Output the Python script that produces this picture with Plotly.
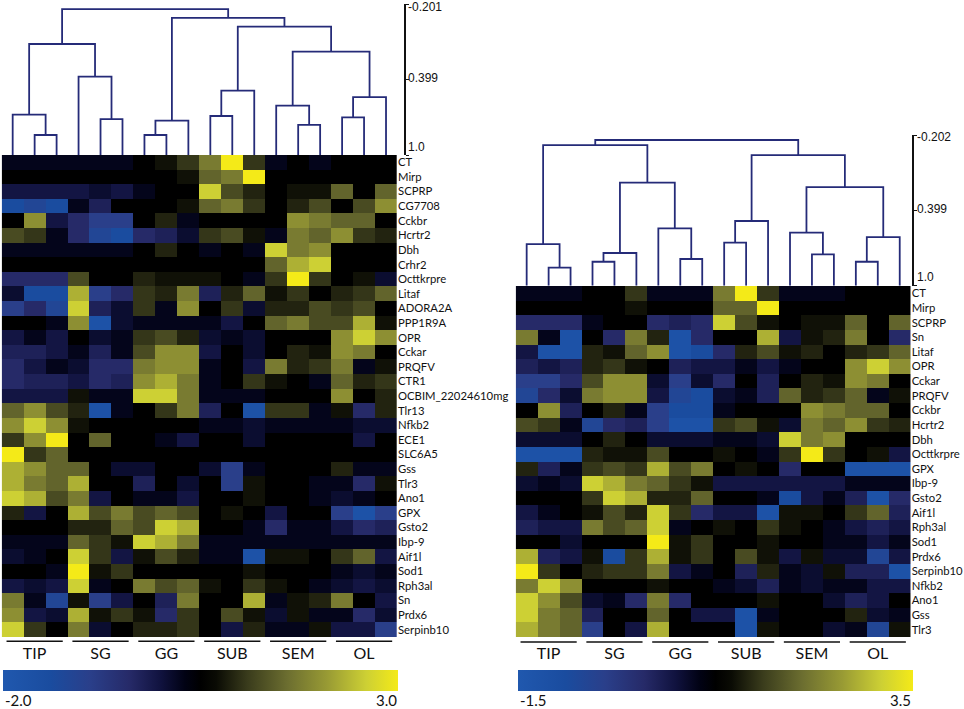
import plotly.graph_objects as go

# groups and row names
groups = ['TIP', 'SG', 'GG', 'SUB', 'SEM', 'OL']
group_centers = [1, 4, 7, 10, 13, 16]
columns = list(range(18))

left_genes = ['CT', 'Mirp', 'SCPRP', 'CG7708', 'Cckbr', 'Hcrtr2', 'Dbh', 'Crhr2', 'Octtkrpre', 'Litaf',
              'ADORA2A', 'PPP1R9A', 'OPR', 'Cckar', 'PRQFV', 'CTR1', 'OCBIM_22024610mg', 'Tlr13', 'Nfkb2',
              'ECE1', 'SLC6A5', 'Gss', 'Tlr3', 'Ano1', 'GPX', 'Gsto2', 'Ibp-9', 'Aif1l', 'Sod1', 'Rph3al',
              'Sn', 'Prdx6', 'Serpinb10']

right_genes = ['CT', 'Mirp', 'SCPRP', 'Sn', 'Litaf', 'OPR', 'Cckar', 'PRQFV', 'Cckbr', 'Hcrtr2', 'Dbh',
               'Octtkrpre', 'GPX', 'Ibp-9', 'Gsto2', 'Aif1l', 'Rph3al', 'Sod1', 'Prdx6', 'Serpinb10',
               'Nfkb2', 'Ano1', 'Gss', 'Tlr3']

# cell values: -10 = full blue, 0 = black, 10 = full yellow
left_levels = [
    [-1, -1, -1, -1, -1, -1, 0, 1, 3, 6, 10, 3, -1, 0, -1, 0, 0, 0],
    [0, 0, 0, 0, 0, 0, 0, 0, 1, 5, 6, 10, 0, 0, 0, 0, 0, 0],
    [-3, -3, -3, -3, -2, -3, -1, 0, 0, 9, 4, 2, 0, 1, 1, 5, 0, 5],
    [-8, -7, -8, -1, -4, 0, 0, 0, 1, 5, 6, 3, 0, 2, 4, 0, 4, 7],
    [0, 7, -3, -5, -6, -6, 0, 2, -1, 0, 0, 0, 0, 7, 6, 5, 5, 0],
    [4, 3, -1, -5, -7, -8, -5, -4, -2, 3, 4, 1, -1, 6, 5, 7, 3, 2],
    [-1, -1, -1, -1, -1, -1, 0, 2, 0, -1, 0, -1, 9, 6, 7, 0, 0, 0],
    [0, 0, 0, 0, 0, 0, 0, 0, 0, 0, 0, 0, 5, 8, 9, 0, 0, 0],
    [-5, -5, -5, 4, 0, 0, 2, 1, 1, 1, 0, -1, 3, 10, 3, 0, 1, -2],
    [-2, -8, -8, 8, -6, -5, 3, 2, 6, -4, 2, 5, 1, 3, 0, 2, 3, 5],
    [-6, -5, -7, 9, -4, -2, 3, -1, 7, 0, 3, -2, 2, 2, 4, 3, 4, 0],
    [0, 0, -1, 7, -9, -2, -1, -1, -1, -1, -3, 0, 5, 6, 4, 4, 8, 1],
    [-3, -1, -3, 0, -2, -1, 3, 4, 2, -2, -1, -2, 0, 0, 0, 7, 9, 7],
    [-4, -4, -3, -1, -4, -1, 4, 7, 7, -3, 0, -2, 0, 2, 1, 7, 6, 0],
    [-5, -3, -1, -2, -5, -5, 6, 7, 7, -1, 0, -3, 6, 2, 3, 6, -1, 1],
    [-5, -4, -4, -3, -5, -4, 7, 8, 6, -1, 0, 3, 1, 0, -1, 5, 2, 3],
    [-3, -3, -3, 1, -1, -1, 9, 9, 6, -1, -1, -1, 0, 0, 0, 7, 0, 2],
    [5, 7, 4, 2, -9, -1, 0, 3, 6, -4, 0, -9, 3, 3, -1, 1, -5, 2],
    [7, 9, 7, 1, 0, 0, 0, 0, 0, -1, -1, -2, -1, -1, -1, -1, -2, -2],
    [3, 7, 10, 0, 5, 0, 0, -1, -3, 0, 0, -2, 0, 0, 0, 0, -3, 0],
    [10, 3, 5, 0, 0, 0, 0, 0, 0, 0, 0, 0, 0, 0, 0, 0, 0, 0],
    [8, 7, 5, 5, 0, -2, -2, 0, 0, -2, -6, -1, 0, 0, 0, 2, -1, -1],
    [8, 6, 5, 8, 0, 0, -4, 0, -2, 0, -6, 1, 0, 0, -1, -1, -5, 1],
    [9, 8, 4, 6, -3, 0, -1, -1, -3, 0, 0, 1, 0, 0, -1, -2, -1, 0],
    [2, -3, 0, 8, 4, 6, 4, 5, 4, 0, 1, 0, -3, 0, 0, -6, -9, -6],
    [0, 0, 0, 2, 2, 5, 4, 9, 8, 0, 0, -1, -5, -1, -1, -3, -5, -4],
    [-1, -1, -1, 5, 3, 1, 9, 8, 6, -1, -1, -1, -1, -1, -1, -1, -1, -1],
    [-2, -1, 0, 9, 3, -3, 1, 4, 2, -1, -1, -9, 1, 1, 0, 3, 5, -3],
    [0, 0, -1, 10, 1, 3, 0, 0, 0, 0, 0, 1, 0, 0, 0, -1, -2, -1],
    [-3, -2, -3, 9, -1, 0, 6, 4, 5, 1, 0, 3, 1, 0, -1, -2, -3, -2],
    [6, -1, -7, 1, -6, -3, 0, -4, 6, 0, 0, 8, -1, 1, 2, 6, 0, -3],
    [7, -3, -2, 8, 1, 3, 1, -5, 3, 0, 4, 1, -2, 1, -1, -1, -5, -2],
    [9, 3, 0, 6, -2, 0, 2, 2, 3, 0, -3, 2, -1, -1, 1, -3, -3, -6],
]

right_levels = [
    [-1, -1, -1, 0, 0, 3, -1, -1, -1, 6, 10, 3, -1, -1, -1, 0, 0, 0],
    [0, 0, 0, 0, 0, 1, 0, 0, 0, 5, 5, 10, 0, 0, 0, 0, 0, 0],
    [-5, -5, -5, -1, 0, 0, -5, -4, -5, 9, 4, 1, 0, 1, 1, 5, 0, 5],
    [6, -1, -9, 0, -5, 6, 2, -9, -5, 0, 0, 8, -3, 1, 2, 6, 0, -5],
    [-3, -9, -9, 2, 1, 5, 7, -9, -8, -5, 2, 4, 1, 2, 0, 2, 3, 5],
    [-4, -3, -4, 2, 3, 1, 0, -4, -3, -3, -1, -3, -1, 0, 0, 7, 9, 7],
    [-6, -6, -5, 4, 7, 7, -2, -6, -2, -5, 0, -4, 0, 2, 1, 7, 6, 0],
    [-7, -5, -2, 6, 7, 7, -3, -7, -8, -2, -1, -4, 5, 2, 3, 5, -1, 1],
    [0, 7, -4, 0, 2, -1, -6, -8, -8, -1, 0, 0, 0, 7, 6, 5, 5, 0],
    [4, 3, -1, -7, -5, -4, -6, -9, -9, 3, 4, 1, -2, 6, 5, 7, 3, 2],
    [-2, -2, -2, 0, 2, 0, -2, -2, -2, -1, -1, -2, 9, 6, 7, 0, 0, 0],
    [-9, -9, -9, 2, 1, 1, 4, 0, 0, 1, 0, -1, 3, 10, 3, 0, 1, -3],
    [2, -4, -1, 3, 4, 3, 8, 4, 6, 0, 1, 0, -5, 0, 0, -9, -9, -9],
    [-2, -1, -2, 9, 8, 6, 5, 3, 1, -3, -3, -3, -3, -3, -3, -1, -1, -1],
    [0, 0, 0, 3, 9, 8, 2, 2, 5, 0, 0, -1, -8, -3, -1, -4, -9, -5],
    [-3, -1, 0, 1, 4, 2, 9, 3, -5, -3, -3, -9, 1, 1, 0, 3, 5, -4],
    [-4, -3, -3, 6, 4, 5, 9, -1, 0, 1, 0, 3, 1, 0, -1, -3, -4, -3],
    [0, 0, -2, 0, 0, 0, 10, 1, 3, 0, 0, 1, 0, 0, -1, -1, -3, -1],
    [8, -4, -3, 1, -8, 3, 8, 1, 3, 0, 4, 1, -3, 1, -2, -2, -7, -3],
    [10, 3, 0, 2, 3, 3, 6, -3, -1, 0, -4, 2, -1, -2, 1, -4, -4, -9],
    [6, 9, 7, 0, 0, 0, 1, 0, 0, -1, -2, -4, -1, -2, -1, -1, -3, -3],
    [9, 7, 4, -2, -1, -5, 6, -5, 0, 0, 0, 1, 0, 0, -2, -4, -3, 0],
    [9, 6, 5, -4, 0, 0, 5, 0, -3, -3, -9, -1, 0, 0, 0, 2, -2, -1],
    [8, 6, 5, -6, 0, -3, 8, 0, 0, 0, -9, 1, 0, 0, -2, -1, -7, 1],
]

# where each shade sits along the colour bar (0 = left end, 1 = right end), shades -10 to 10
shade_pos = [0.0, 0.06, 0.12, 0.17, 0.22, 0.32, 0.35, 0.39, 0.42, 0.45, 0.50,
             0.55, 0.58, 0.61, 0.65, 0.70, 0.75, 0.795, 0.86, 0.92, 1.0]

# dendrograms: (child, child, height). ids 0-17 are the columns, 18 up are earlier merges
left_links = [(1, 2, 0.841), (0, 18, 0.679), (4, 5, 0.714), (3, 20, 0.377), (19, 21, 0.117),
              (6, 7, 0.841), (23, 8, 0.727), (9, 10, 0.690), (25, 11, 0.488), (13, 14, 0.761),
              (12, 27, 0.608), (15, 16, 0.700), (29, 17, 0.539), (28, 30, 0.178), (26, 31, -0.021),
              (24, 32, -0.090), (22, 33, -0.161)]

right_links = [(1, 2, 0.856), (0, 18, 0.668), (3, 4, 0.809), (20, 5, 0.739), (7, 8, 0.787),
               (6, 22, 0.543), (21, 23, 0.178), (19, 24, -0.122), (9, 10, 0.657), (26, 11, 0.484),
               (13, 14, 0.750), (12, 28, 0.577), (15, 16, 0.809), (30, 17, 0.612), (29, 31, 0.213),
               (27, 32, -0.042), (25, 33, -0.162)]

left_scale = [-0.201, 0.399, 1.0]
right_scale = [-0.202, 0.399, 1.0]
left_range = [-2.0, 3.0]
right_range = [-1.5, 3.5]

colors = [[0.0, '#2058ae'], [0.12, '#1a4c9f'], [0.22, '#2a3f8a'], [0.32, '#262a68'], [0.40, '#10123e'],
          [0.46, '#010214'], [0.50, '#000000'], [0.54, '#0a0b04'], [0.62, '#3a3c1c'], [0.72, '#6c6e30'],
          [0.82, '#989a34'], [0.92, '#cdd034'], [1.0, '#f4ea18']]

W, H = 964, 709
FONT = 'Lato'


def px_x(x):
    return x / W


def px_y(y):
    return 1 - y / H


def to_values(levels, rng):
    return [[rng[0] + shade_pos[v + 10] * (rng[1] - rng[0]) for v in row] for row in levels]


def dendro_lines(links):
    pos = {i: (i, 1.0) for i in columns}
    xs, ys = [], []
    for n, (a, b, h) in enumerate(links):
        xa, ya = pos[a]
        xb, yb = pos[b]
        xs += [xa, xa, xb, xb, None]
        ys += [ya, h, h, yb, None]
        pos[18 + n] = ((xa + xb) / 2, h)
    return xs, ys


fig = go.Figure()

# heatmaps
fig.add_trace(go.Heatmap(x=columns, y=left_genes, z=to_values(left_levels, left_range),
                         coloraxis='coloraxis', xaxis='x', yaxis='y'))
fig.add_trace(go.Heatmap(x=columns, y=right_genes, z=to_values(right_levels, right_range),
                         coloraxis='coloraxis2', xaxis='x2', yaxis='y2'))

# dendrograms
lx, ly = dendro_lines(left_links)
rx, ry = dendro_lines(right_links)
fig.add_trace(go.Scatter(x=lx, y=ly, mode='lines', line=dict(color='#252b78', width=1.8),
                         xaxis='x3', yaxis='y3', showlegend=False))
fig.add_trace(go.Scatter(x=rx, y=ry, mode='lines', line=dict(color='#252b78', width=1.8),
                         xaxis='x4', yaxis='y4', showlegend=False))


def bar(x0, width):
    return dict(orientation='h', x=px_x(x0), xanchor='left', y=px_y(670), yanchor='top', len=width / W,
                lenmode='fraction', thickness=21, thicknessmode='pixels', xpad=0, ypad=0,
                showticklabels=False, ticks='', outlinewidth=0)


def heat_x(x0, x1):
    return dict(domain=[px_x(x0), px_x(x1)], range=[-0.5, 17.5], tickmode='array', tickvals=group_centers,
                ticktext=groups, ticks='', ticklen=0, showgrid=False, zeroline=False, ticklabelstandoff=5,
                tickfont=dict(family=FONT, size=16, color='#111111'), side='bottom')


def heat_y(y0, y1, genes):
    return dict(domain=[px_y(y1), px_y(y0)], type='category', categoryorder='array', categoryarray=genes,
                autorange='reversed', side='right', tickmode='array', tickvals=genes, ticktext=genes,
                ticks='', showgrid=False, zeroline=False, tickfont=dict(family=FONT, size=11.3, color='#111111'))


def tree_x(x0, x1):
    return dict(domain=[px_x(x0), px_x(x1)], range=[-0.5, 17.5], visible=False)


def tree_y(y0, y1, scale, x_line):
    return dict(domain=[px_y(y1), px_y(y0)], range=[scale[-1], scale[0]], anchor='free', position=px_x(x_line),
                side='right', showline=True, linecolor='#111111', linewidth=2, tickmode='array',
                tickvals=scale, ticks='outside', ticklen=3, tickcolor='#111111', showticklabels=False,
                showgrid=False, zeroline=False)


fig.update_layout(
    width=W, height=H, margin=dict(l=0, r=0, t=0, b=0, autoexpand=False),
    plot_bgcolor='white', paper_bgcolor='white', showlegend=False,
    coloraxis=dict(colorscale=colors, cmin=left_range[0], cmax=left_range[1], colorbar=bar(3, 395)),
    coloraxis2=dict(colorscale=colors, cmin=right_range[0], cmax=right_range[1], colorbar=bar(518, 395)),
    xaxis=heat_x(1.7, 397),
    yaxis=heat_y(155, 637, left_genes),
    xaxis2=dict(heat_x(515.7, 910.7), anchor='y2'),
    yaxis2=dict(heat_y(286, 637, right_genes), anchor='x2'),
    xaxis3=dict(tree_x(1.7, 397), anchor='y3'),
    yaxis3=tree_y(4, 155, left_scale, 405),
    xaxis4=dict(tree_x(515.7, 910.7), anchor='y4'),
    yaxis4=tree_y(135, 285.7, right_scale, 913.3),
)

# group lines above the group names
for axis, y in (('x', 641.3), ('x2', 642)):
    for c in group_centers:
        fig.add_shape(type='line', xref=axis, yref='paper', x0=c - 1.28, x1=c + 1.28, y0=px_y(y), y1=px_y(y),
                      line=dict(color='#111111', width=1.5))


# scale and colour bar labels
def label(text, x, y, anchor='left', size=12):
    fig.add_annotation(text=text, xref='paper', yref='paper', x=px_x(x), y=px_y(y), xanchor=anchor,
                       yanchor='middle', showarrow=False, borderpad=0, borderwidth=0,
                       font=dict(family='Liberation Sans' if size == 12 else FONT, size=size, color='#111111'))


for text, y in zip(['-0.201', '0.399', '1.0'], [7, 78, 147]):
    label(text, 408, y)
for text, y in zip(['-0.202', '0.399', '1.0'], [137, 209, 277]):
    label(text, 917, y)

label('%.1f' % left_range[0], 5, 699.5, size=15)
label('%.1f' % left_range[1], 397, 699.5, anchor='right', size=15)
label('%.1f' % right_range[0], 520, 699.5, size=15)
label('%.1f' % right_range[1], 911, 699.5, anchor='right', size=15)

# the page's default body margin would push everything 8px in
fig.write_html("out.html", config=dict(displayModeBar=False), post_script="document.body.style.margin = '0';")
